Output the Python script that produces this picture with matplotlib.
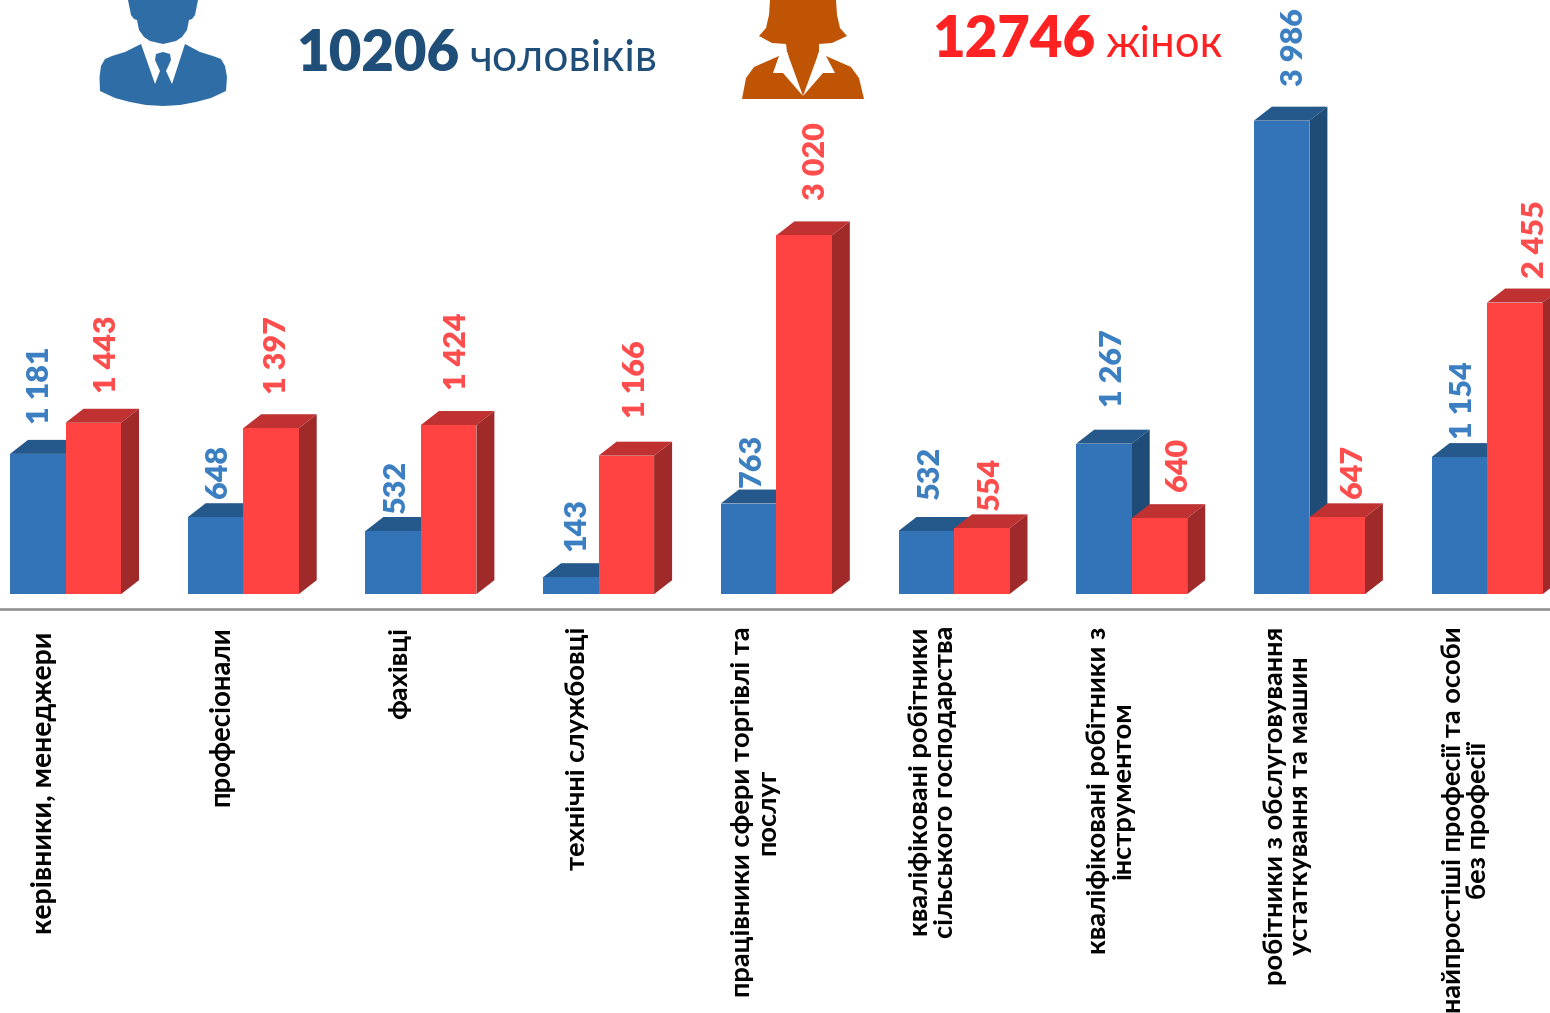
"""
Staff by occupation group, men and women, drawn as fake 3D bars.
"""

import matplotlib
matplotlib.use('Agg')
import matplotlib.pyplot as plt
from matplotlib.patches import Polygon

# Data
categories = [
    'керівники, менеджери',
    'професіонали',
    'фахівці',
    'технічні службовці',
    'працівники сфери торгівлі та\nпослуг',
    'кваліфіковані робітники\nсільського господарства',
    'кваліфіковані робітники з\nінструментом',
    'робітники з обслуговування\nустаткування та машин',
    'найпростіші професії та особи\nбез професії',
]
men = [1181, 648, 532, 143, 763, 532, 1267, 3986, 1154]
women = [1443, 1397, 1424, 1166, 3020, 554, 640, 647, 2455]
men_labels = ['1 181', '648', '532', '143', '763', '532', '1 267', '3 986', '1 154']
women_labels = ['1 443', '1 397', '1 424', '1 166', '3 020', '554', '640', '647', '2 455']

# Colors
BLUE = '#3274b7'
BLUE_TOP = '#25588b'
BLUE_SIDE = '#1f4b77'
BLUE_TEXT = '#3a7fc2'
RED = '#ff4343'
RED_TOP = '#c03232'
RED_SIDE = '#a02a2a'
RED_TEXT = '#ff4b4b'
NAVY = '#1f4e79'
HEAD_RED = '#ff2222'
MAN = '#2e6da6'
WOMAN = '#bf5504'

FONT = ['Lato', 'Open Sans', 'DejaVu Sans']
W, H = 1550, 1013
PX_PER_GROUP = 177.7
PX_PER_UNIT = 0.1188
BASE_Y = 594.2
LEFT_X = 65.5
BAR_W = 55.5 / PX_PER_GROUP
DX = 18 / PX_PER_GROUP
DY = 14 / PX_PER_UNIT
PT = 0.72  # px to points at dpi 100

# label nudges, px from the centre top of the front face
men_dx = [2, 3, 3, 6, 3, 4, 9, 12, 4]
men_gap = [30, 19, 18, 26, 17, 32, 37, 35, 18]
women_dx = [14, 6, 8, 10, 12, 8, 19, 16, 20]
women_gap = [30, 34, 35, 38, 35, 18, 27, 19, 25]
cat_top = [3, -2, -2, -2, -2, -3, -2, -2, -2]
cat_size = [20.4, 19.8, 19.6, 19.6, 19.6, 19.6, 19.6, 19.6, 19.6]

fig = plt.figure(figsize=(W / 100, H / 100), dpi=100, facecolor='white')
ax = fig.add_axes([0, 0, 1, 1])
ax.set_xlim(-LEFT_X / PX_PER_GROUP, (W - LEFT_X) / PX_PER_GROUP)
ax.set_ylim(-(H - BASE_Y) / PX_PER_UNIT, BASE_Y / PX_PER_UNIT)
ax.axis('off')


def bar3d(x, val, front, top, side, z):
    ax.bar(x, val, width=BAR_W, align='edge', color=front, linewidth=0, zorder=z + 0.2)
    ax.add_patch(Polygon([(x, val), (x + DX, val + DY), (x + BAR_W + DX, val + DY), (x + BAR_W, val)],
                         facecolor=top, edgecolor='none', zorder=z))
    ax.add_patch(Polygon([(x + BAR_W, 0), (x + BAR_W + DX, DY), (x + BAR_W + DX, val + DY), (x + BAR_W, val)],
                         facecolor=side, edgecolor='none', zorder=z + 0.1))


for i in range(len(categories)):
    bar3d(i - BAR_W, men[i], BLUE, BLUE_TOP, BLUE_SIDE, 2 + i)
    bar3d(i, women[i], RED, RED_TOP, RED_SIDE, 2.5 + i)
    ax.annotate(men_labels[i], (i - BAR_W / 2, men[i]),
                xytext=(men_dx[i] * PT, men_gap[i] * PT), textcoords='offset points',
                rotation=90, ha='center', va='bottom', color=BLUE_TEXT,
                fontsize=22, fontweight='heavy', family=FONT, zorder=30)
    ax.annotate(women_labels[i], (i + BAR_W / 2, women[i]),
                xytext=(women_dx[i] * PT, women_gap[i] * PT), textcoords='offset points',
                rotation=90, ha='center', va='bottom', color=RED_TEXT,
                fontsize=22, fontweight='heavy', family=FONT, zorder=30)
    ax.annotate(categories[i], (i, 0),
                xytext=(-21.5 * PT, -(34.5 + cat_top[i]) * PT), textcoords='offset points',
                rotation=90, ha='center', va='top', multialignment='center', color='black',
                fontsize=cat_size[i], fontweight='bold', family=FONT, linespacing=1.06, zorder=30)

ax.axhline(-(609 - BASE_Y) / PX_PER_UNIT, color='#8c8c8c', linewidth=1.8, zorder=1)

# Header, icons are in pixel coordinates
ov = fig.add_axes([0, 0, 1, 1], facecolor='none')
ov.set_xlim(0, W)
ov.set_ylim(H, 0)
ov.axis('off')

man_body = [(141, 44), (125, 52), (112, 56), (105, 59), (101, 66), (99.5, 77), (100, 91), (115, 98), (130, 102),
            (146, 105), (163, 106), (180, 105), (196, 102), (211, 98), (226, 91), (227, 77), (225, 66), (221, 59),
            (213, 56), (200, 52), (185, 44)]
man_shirt = [(141, 44), (155, 84), (160, 71), (155, 60), (156, 54), (163, 52), (170, 54), (171, 60),
             (166, 71), (172, 84), (185, 44)]
man_head = [(128, 0), (131, 15), (134, 19), (137, 20), (139, 30), (144, 37), (150, 41), (163, 44), (176, 41),
            (182, 37), (187, 30), (189, 20), (192, 19), (195, 15), (198, 0)]
woman_body = [(779, 56), (754, 67), (746, 78), (742, 99), (864, 99), (859, 78), (851, 67), (826, 56)]
woman_hair = [(770, 0), (769, 15), (766, 28), (759, 36), (772, 43), (786, 44), (787, 52), (803, 96), (819, 52),
              (819, 44), (832, 43), (847, 36), (840, 28), (837, 15), (836, 0)]
woman_left = [(779, 56), (773, 73), (783, 73), (803, 96), (787, 52)]
woman_right = [(826, 56), (835, 73), (823, 73), (803, 96), (819, 52)]

ov.add_patch(Polygon(man_body, facecolor=MAN, edgecolor='none'))
ov.add_patch(Polygon(man_shirt, facecolor='white', edgecolor='none'))
ov.add_patch(Polygon(man_head, facecolor=MAN, edgecolor='none'))
ov.add_patch(Polygon(woman_body, facecolor=WOMAN, edgecolor='none'))
ov.add_patch(Polygon(woman_hair, facecolor=WOMAN, edgecolor='none'))
ov.add_patch(Polygon(woman_left, facecolor='white', edgecolor='none'))
ov.add_patch(Polygon(woman_right, facecolor='white', edgecolor='none'))

ov.text(296, 71, '10206', color=NAVY, fontsize=40.5, fontweight='heavy', family=FONT, va='baseline')
ov.text(469, 71, 'чоловіків', color=NAVY, fontsize=32, family=FONT, va='baseline')
ov.text(932, 57, '12746', color=HEAD_RED, fontsize=40.5, fontweight='heavy', family=FONT, va='baseline')
ov.text(1105, 57, 'жінок', color=HEAD_RED, fontsize=31.5, family=FONT, va='baseline')

plt.savefig('out.png', dpi=100, facecolor='white')
plt.close()
